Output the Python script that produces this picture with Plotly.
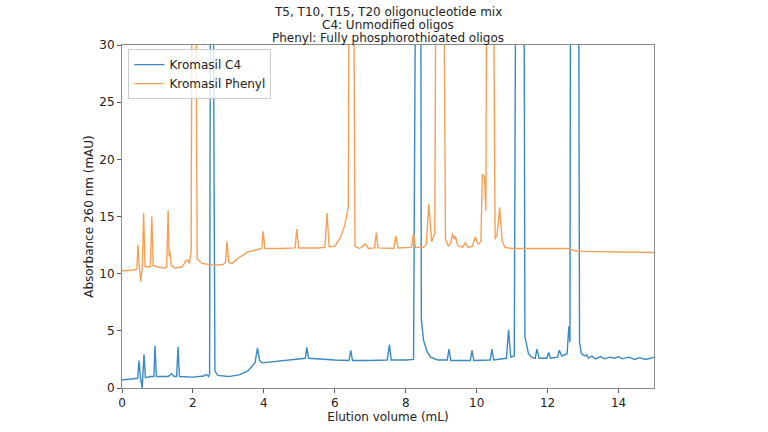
import plotly.graph_objects as go

# Kromasil C4 trace (elution volume mL, absorbance mAU)
c4_x = [0.00, 0.30, 0.44, 0.48, 0.52, 0.57, 0.59, 0.62, 0.66, 0.80, 0.90, 0.93, 0.97,
        1.30, 1.40, 1.47, 1.54, 1.58, 1.62, 2.00, 2.30, 2.38, 2.44, 2.47, 2.50, 2.56,
        2.62, 2.70, 3.00, 3.30, 3.55, 3.75, 3.82, 3.88, 3.95, 4.50, 5.10, 5.17, 5.21,
        5.26, 6.00, 6.40, 6.45, 6.50, 7.00, 7.48, 7.54, 7.59, 8.00, 8.22, 8.29, 8.42,
        8.44, 8.50, 8.60, 8.70, 8.90, 9.17, 9.22, 9.27, 9.82, 9.87, 9.92, 10.38, 10.43,
        10.48, 10.84, 10.90, 10.96, 11.06, 11.11, 11.33, 11.36, 11.46, 11.55, 11.65,
        11.70, 11.76, 11.98, 12.03, 12.08, 12.28, 12.33, 12.40, 12.55, 12.60, 12.63,
        12.65, 12.87, 12.90, 12.95, 13.05, 13.10, 13.15, 13.25, 13.35, 13.50, 13.60,
        13.75, 13.90, 14.00, 14.10, 14.30, 14.45, 14.60, 14.75, 14.90, 15.00]
c4_y = [0.70, 0.80, 0.85, 2.40, 0.90, 0.00, 0.90, 2.95, 0.90, 1.00, 1.00, 3.70, 1.00,
        1.00, 1.25, 1.00, 1.00, 3.60, 1.00, 0.95, 1.05, 1.20, 1.00, 1.20, 45.0, 45.0,
        1.50, 1.10, 1.00, 1.15, 1.50, 2.20, 3.50, 2.40, 2.20, 2.40, 2.60, 2.60, 3.55,
        2.60, 2.45, 2.40, 3.30, 2.40, 2.40, 2.45, 3.80, 2.45, 2.45, 2.50, 45.0, 45.0,
        6.00, 4.20, 3.20, 2.70, 2.45, 2.45, 3.40, 2.40, 2.40, 3.30, 2.40, 2.45, 3.40,
        2.45, 2.60, 5.10, 2.70, 2.80, 45.0, 45.0, 4.50, 3.00, 2.70, 2.60,
        3.40, 2.60, 2.60, 3.10, 2.60, 2.70, 3.30, 2.80, 3.00, 5.40, 4.00,
        45.0, 45.0, 4.00, 3.00, 2.80, 2.90, 2.60, 2.80, 2.55, 2.75, 2.55,
        2.70, 2.60, 2.75, 2.55, 2.70, 2.50, 2.65, 2.50, 2.60, 2.70]

# Kromasil Phenyl trace
ph_x = [0.00, 0.30, 0.42, 0.45, 0.49, 0.53, 0.57, 0.61, 0.65, 0.80, 0.84, 0.88, 1.00,
        1.20, 1.26, 1.30, 1.33, 1.35, 1.39, 1.50, 1.70, 1.80, 1.85, 1.90, 1.95, 1.98,
        2.07, 2.12, 2.25, 2.60, 2.85, 2.92, 2.96, 3.01, 3.10, 3.30, 3.55, 3.85, 3.94,
        3.98, 4.03, 4.50, 4.88, 4.93, 4.98, 5.50, 5.72, 5.78, 5.84, 6.00, 6.15, 6.28,
        6.34, 6.38, 6.41, 6.52, 6.57, 6.70, 6.86, 6.95, 7.12, 7.17, 7.22, 7.66, 7.72,
        7.78, 8.16, 8.22, 8.27, 8.50, 8.58, 8.65, 8.73, 8.82, 8.86, 9.06, 9.12, 9.20,
        9.27, 9.32, 9.36, 9.40, 9.46, 9.60, 9.68, 9.75, 9.88, 9.96, 10.04, 10.12,
        10.16, 10.22, 10.26, 10.29, 10.46, 10.52, 10.58, 10.65, 10.72, 10.80, 11.00,
        11.50, 12.00, 12.60, 12.75, 13.00, 14.00, 15.00]
ph_y = [10.25, 10.30, 10.40, 12.50, 10.50, 9.30, 10.50, 15.30, 10.60, 10.60, 15.00, 10.70, 10.60,
        10.50, 10.60, 15.55, 11.50, 12.00, 10.70, 10.50, 10.60, 11.10, 11.20, 10.90, 12.00, 45.0,
        45.0, 11.30, 10.90, 10.75, 10.80, 11.00, 12.80, 11.00, 10.90, 11.40, 11.90, 12.10, 12.20,
        13.70, 12.20, 12.20, 12.25, 13.90, 12.25, 12.25, 12.30, 15.30, 12.35, 12.40, 13.10, 14.20,
        15.40, 15.80, 45.0, 45.0, 12.40, 12.20, 12.60, 12.20, 12.25, 13.60, 12.25, 12.20, 13.30,
        12.25, 12.30, 13.50, 12.30, 12.30, 12.60, 16.10, 12.80, 13.50, 45.0, 45.0, 13.00, 12.40,
        12.70, 13.50, 13.00, 13.30, 12.50, 12.30, 12.70, 12.30, 12.40, 13.20, 12.60, 12.80,
        18.70, 18.50, 15.50, 45.0, 45.0, 13.00, 13.50, 15.80, 12.80, 12.30, 12.20,
        12.20, 12.25, 12.20, 12.00, 11.95, 11.90, 11.85]

x_ticks = [0, 2, 4, 6, 8, 10, 12, 14]
y_ticks = [0, 5, 10, 15, 20, 25, 30]
title_lines = ["T5, T10, T15, T20 oligonucleotide mix",
               "C4: Unmodified oligos",
               "Phenyl: Fully phosphorothioated oligos"]

FONT = "DejaVu Sans"
TXT = "#222"

fig = go.Figure()
fig.add_trace(go.Scatter(x=c4_x, y=c4_y, mode="lines", name="Kromasil C4",
                         line=dict(color="#3a89c4", width=1.4)))
fig.add_trace(go.Scatter(x=ph_x, y=ph_y, mode="lines", name="Kromasil Phenyl",
                         line=dict(color="#f7a055", width=1.4)))

axis_common = dict(showline=True, linecolor="#8a8a8a", linewidth=1, mirror=True,
                   ticks="outside", ticklen=4, tickcolor="#555", showgrid=False,
                   zeroline=False, tickfont=dict(family=FONT, size=12, color=TXT))

# three title lines, spaced like the reference
for i, line in enumerate(title_lines):
    fig.add_annotation(text=line, xref="paper", yref="paper", x=0.5, y=1,
                       xanchor="center", yanchor="middle", yshift=33 - 13 * i,
                       showarrow=False, font=dict(family=FONT, size=12, color=TXT))

fig.update_layout(
    width=768, height=432,
    margin=dict(l=122, r=114, t=45, b=41),
    paper_bgcolor="white", plot_bgcolor="white",
    font=dict(family=FONT, size=12, color=TXT),
    xaxis=dict(range=[0, 15], tickvals=x_ticks,
               title=dict(text="Elution volume (mL)", standoff=1,
                          font=dict(family=FONT, size=12, color=TXT)),
               **axis_common),
    yaxis=dict(range=[0, 30], tickvals=y_ticks,
               title=dict(text="Absorbance 260 nm (mAU)", standoff=3,
                          font=dict(family=FONT, size=12, color=TXT)),
               **axis_common),
    legend=dict(x=0.012, y=0.988, xanchor="left", yanchor="top",
                bordercolor="#cccccc", borderwidth=1, bgcolor="rgba(255,255,255,0.8)",
                font=dict(family=FONT, size=12, color=TXT),
                tracegroupgap=0),
    showlegend=True,
)

fig.write_html("out.html")
